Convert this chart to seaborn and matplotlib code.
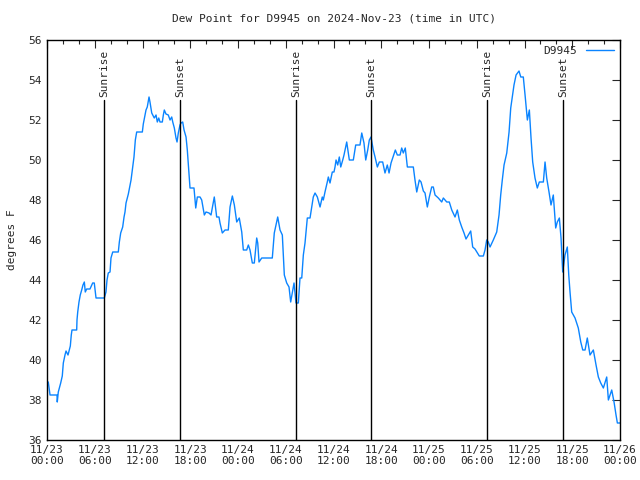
import matplotlib
matplotlib.use("Agg")
import matplotlib.pyplot as plt
import seaborn as sns
import pandas as pd
from matplotlib.ticker import MultipleLocator

# hours since 2024-11-23 00:00 UTC
hours = [0.0, 0.16, 0.38, 1.26, 1.29, 1.42, 1.72, 1.92, 2.05, 2.26, 2.39, 2.64, 2.93, 3.05, 3.14, 3.73,
         3.77, 3.86, 4.02, 4.18, 4.36, 4.52, 4.69, 4.81, 4.99, 5.40, 5.74, 5.94, 6.16, 7.20, 7.41, 7.54,
         7.70, 7.92, 8.04, 8.26, 8.96, 9.09, 9.26, 9.51, 9.68, 9.80, 9.93, 10.22, 10.56, 10.72, 10.93,
         11.10, 11.27, 11.98, 12.10, 12.31, 12.44, 12.60, 12.82, 12.94, 13.16, 13.48, 13.70, 13.86,
         14.04, 14.20, 14.49, 14.62, 14.74, 14.95, 15.24, 15.46, 15.67, 15.80, 16.00, 16.21, 16.34,
         16.50, 16.71, 16.84, 17.05, 17.22, 17.47, 17.63, 17.81, 17.97, 18.47, 18.69, 18.89, 19.23,
         19.44, 19.77, 19.98, 20.36, 20.61, 21.02, 21.32, 21.61, 21.74, 22.03, 22.37, 22.78, 23.00,
         23.29, 23.54, 23.84, 24.16, 24.47, 24.67, 25.09, 25.30, 25.51, 25.80, 26.05, 26.35, 26.48,
         26.64, 26.98, 28.31, 28.56, 28.99, 29.28, 29.57, 29.82, 30.12, 30.41, 30.62, 30.82, 31.04,
         31.29, 31.58, 31.79, 32.01, 32.21, 32.42, 32.71, 33.05, 33.26, 33.46, 33.68, 33.97, 34.31,
         34.59, 34.72, 34.93, 35.22, 35.35, 35.56, 35.85, 36.06, 36.19, 36.32, 36.53, 36.73, 36.91,
         37.16, 37.32, 37.66, 37.99, 38.49, 38.79, 39.33, 39.55, 39.83, 40.05, 40.30, 40.50, 40.71,
         41.00, 41.22, 41.51, 41.76, 42.18, 42.47, 42.76, 42.98, 43.23, 43.77, 44.02, 44.36, 44.57,
         44.77, 45.02, 45.28, 46.03, 46.24, 46.46, 46.78, 47.00, 47.29, 47.50, 47.79, 48.04, 48.34,
         48.54, 48.76, 49.17, 49.60, 49.80, 50.23, 50.55, 50.86, 51.27, 51.56, 51.81, 52.11, 52.40,
         52.65, 52.94, 53.24, 53.49, 53.78, 54.32, 54.83, 55.04, 55.25, 55.45, 55.67, 56.08, 56.51,
         56.80, 57.01, 57.21, 57.43, 57.77, 58.06, 58.27, 58.47, 58.68, 58.94, 59.31, 59.53, 59.85,
         60.07, 60.36, 60.61, 60.82, 61.03, 61.32, 61.61, 61.86, 62.37, 62.58, 62.79, 63.08, 63.33,
         63.62, 63.92, 64.12, 64.38, 64.59, 64.80, 65.09, 65.38, 65.56, 65.72, 65.93, 66.35, 66.76,
         67.07, 67.32, 67.61, 67.89, 68.23, 68.65, 68.99, 69.28, 69.58, 69.91, 70.33, 70.54, 70.96,
         71.25, 71.50, 71.67, 72.00]
dewpoint = [38.9, 38.9, 38.25, 38.25, 37.9, 38.4, 38.85, 39.2, 39.85, 40.25, 40.45, 40.25, 40.7, 41.25,
            41.5, 41.5, 42.0, 42.4, 42.9, 43.25, 43.5, 43.75, 43.9, 43.4, 43.55, 43.55, 43.85, 43.85,
            43.1, 43.1, 43.4, 44.0, 44.35, 44.4, 45.1, 45.4, 45.4, 45.9, 46.35, 46.65, 47.15, 47.4,
            47.85, 48.3, 49.0, 49.5, 50.15, 51.0, 51.4, 51.4, 51.8, 52.25, 52.5, 52.65, 53.15, 52.9,
            52.35, 52.1, 52.25, 51.9, 52.1, 51.9, 51.9, 52.25, 52.5, 52.3, 52.25, 52.0, 52.15, 51.9,
            51.6, 51.1, 50.9, 51.35, 51.75, 51.85, 51.9, 51.5, 51.15, 50.5, 49.5, 48.6, 48.6, 47.6,
            48.15, 48.15, 48.0, 47.25, 47.4, 47.35, 47.25, 48.15, 47.15, 47.15, 46.85, 46.35, 46.5,
            46.5, 47.65, 48.2, 47.75, 46.9, 47.1, 46.4, 45.5, 45.5, 45.75, 45.5, 44.85, 44.85, 46.1,
            45.85, 44.9, 45.1, 45.1, 46.35, 47.15, 46.5, 46.25, 44.25, 43.85, 43.65, 42.9, 43.35,
            43.85, 42.85, 42.85, 44.1, 44.1, 45.25, 45.85, 47.1, 47.1, 47.65, 48.15, 48.35, 48.15,
            47.65, 48.15, 48.0, 48.4, 48.9, 49.15, 48.85, 49.4, 49.4, 49.65, 50.0, 49.75, 50.15,
            49.65, 50.0, 50.25, 50.9, 50.0, 50.0, 50.75, 50.75, 51.35, 50.85, 50.0, 50.5, 51.0,
            51.15, 50.5, 50.15, 49.65, 49.9, 49.9, 49.35, 49.75, 49.35, 49.85, 50.5, 50.25, 50.25,
            50.6, 50.35, 50.6, 49.65, 49.65, 49.0, 48.4, 49.0, 48.9, 48.45, 48.35, 47.65, 48.15,
            48.65, 48.65, 48.25, 48.1, 47.9, 48.1, 47.9, 47.9, 47.5, 47.15, 47.5, 47.0, 46.65, 46.35,
            46.05, 46.25, 46.45, 45.65, 45.55, 45.2, 45.2, 45.5, 46.0, 45.9, 45.65, 46.0, 46.4,
            47.25, 48.25, 49.0, 49.75, 50.35, 51.4, 52.6, 53.15, 53.75, 54.25, 54.45, 54.15, 54.15,
            53.25, 52.0, 52.5, 51.1, 49.9, 49.1, 48.6, 48.9, 48.9, 49.9, 49.1, 48.4, 47.75, 48.25,
            46.6, 46.9, 47.1, 46.1, 44.4, 45.25, 45.65, 44.25, 43.4, 42.4, 42.1, 41.6, 40.9, 40.5,
            40.5, 41.1, 40.25, 40.5, 39.75, 39.15, 38.85, 38.6, 39.15, 38.0, 38.5, 37.9, 37.25,
            36.85, 36.85]

sun_hours = [7.16, 16.71, 31.29, 40.71, 55.29, 64.84]
sun_labels = ["Sunrise", "Sunset", "Sunrise", "Sunset", "Sunrise", "Sunset"]

tick_hours = [0, 6, 12, 18, 24, 30, 36, 42, 48, 54, 60, 66, 72]
tick_labels = ["11/23\n00:00", "11/23\n06:00", "11/23\n12:00", "11/23\n18:00",
               "11/24\n00:00", "11/24\n06:00", "11/24\n12:00", "11/24\n18:00",
               "11/25\n00:00", "11/25\n06:00", "11/25\n12:00", "11/25\n18:00",
               "11/26\n00:00"]

sns.set_style("white")
plt.rcParams['font.family'] = ['DejaVu Sans Mono', 'DejaVu Sans']

df = pd.DataFrame({"hours": hours, "D9945": dewpoint})

fig = plt.figure(figsize=(6.4, 4.8), dpi=100)
ax = fig.add_axes([47/640, 40/480, 573/640, 400/480])

line_color = "#0a84ff"
sns.lineplot(data=df, x="hours", y="D9945", ax=ax, color=line_color, linewidth=1.0,
             label="D9945", estimator=None)

for h, lab in zip(sun_hours, sun_labels):
    ax.axvline(h, ymin=0, ymax=(53 - 36) / 20, color="black", linewidth=1.0)
    ax.text(h, 53.15, lab, rotation=90, ha="center", va="bottom", fontsize=8)

ax.set_xlim(0, 72)
ax.set_ylim(36, 56)
ax.set_xticks(tick_hours)
ax.set_xticklabels(tick_labels, fontsize=8)
ax.xaxis.set_minor_locator(MultipleLocator(2))
ax.yaxis.set_major_locator(MultipleLocator(2))
ax.tick_params(axis="y", labelsize=8)
ax.tick_params(which="major", direction="in", length=6, width=0.8, top=True, right=True)
ax.tick_params(which="minor", direction="in", length=3, width=0.8, top=True, right=True)
for s in ax.spines.values():
    s.set_color("black")
    s.set_linewidth(1.0)

ax.set_xlabel("")
ax.set_ylabel("degrees F", fontsize=8)
ax.yaxis.set_label_coords(-0.053, 0.5)
ax.set_title("Dew Point for D9945 on 2024-Nov-23 (time in UTC)", fontsize=8, pad=13)

leg = ax.legend(loc="upper right", frameon=False, fontsize=8, handlelength=2.6,
                markerfirst=False, borderaxespad=0.1)

fig.savefig("out.png", dpi=100)
